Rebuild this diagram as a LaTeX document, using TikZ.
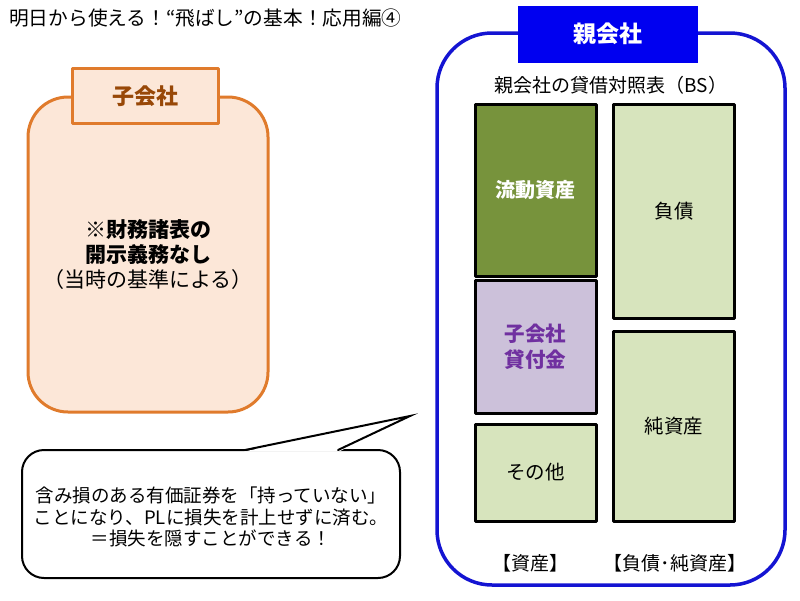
\documentclass[tikz,border=0pt]{standalone}
\usepackage{fontspec}
\setmainfont{Noto Sans CJK JP}
\usepackage{xcolor}
\usepackage{tikz}
\definecolor{orangeline}{HTML}{E07B2C}
\definecolor{peach}{HTML}{FCE7D8}
\definecolor{brownlabel}{HTML}{984807}
\definecolor{blueline}{HTML}{1414D2}
\definecolor{bluelabel}{HTML}{0000F0}
\definecolor{olive}{HTML}{77933C}
\definecolor{palegreen}{HTML}{D7E4BD}
\definecolor{lavender}{HTML}{CCC1DA}
\definecolor{purpletext}{HTML}{7030A0}
\usetikzlibrary{arrows.meta, calc}

\begin{document}
\begin{tikzpicture}[x=1pt, y=-1pt, line cap=round, line join=round,
	bsbox/.style={draw=black, line width=3pt, minimum width=121pt, inner sep=0pt, align=center,
		font=\fontsize{19.5}{24}\selectfont},
	tag/.style={inner sep=0pt, align=center}]
				\useasboundingbox (0,0) rectangle (800,600);
				\node[tag, anchor=west, font=\fontsize{19.7}{22}\selectfont] (title) at (9,18) {明日から使える！“飛ばし”の基本！応用編④};
				% 子会社
				\draw[orangeline, line width=3pt, fill=peach, rounded corners=40] (28,97) rectangle (268,412);
				\node[draw=orangeline, line width=3pt, fill=peach, minimum width=146pt, minimum height=55pt,
					text=brownlabel, font=\fontsize{22}{24}\selectfont\bfseries] (kolabel) at (145,96) {子会社};
				\node[tag, font=\fontsize{21}{25}\selectfont] (konote) at (148,255)
					{\textbf{※財務諸表の}\\\textbf{開示義務なし}\\（当時の基準による）};
				% 親会社
				\draw[blueline, line width=3.5pt, fill=white, rounded corners=55] (437,33) rectangle (785,585);
				\node[fill=bluelabel, minimum width=180pt, minimum height=57pt, text=white,
					font=\fontsize{23}{26}\selectfont\bfseries] (oyalabel) at (608,34) {親会社};
				\node[tag, font=\fontsize{19}{22}\selectfont] (bstitle) at (611,85) {親会社の貸借対照表（BS）};
				\node[bsbox, fill=olive, minimum height=172pt, text=white, font=\fontsize{20}{24}\selectfont\bfseries]
					(ryudo) at (535.5,190) {流動資産};
				\node[bsbox, fill=lavender, minimum height=133pt, text=purpletext, font=\fontsize{20.5}{26}\selectfont\bfseries]
					(kashitsuke) at (535.5,346.5) {子会社\\貸付金};
				\node[bsbox, fill=palegreen, minimum height=97pt] (sonota) at (535.5,472.5) {その他};
				\node[bsbox, fill=palegreen, minimum height=214pt] (fusai) at (674,211) {負債};
				\node[bsbox, fill=palegreen, minimum height=190pt] (junshisan) at (674,426) {純資産};
				\node[tag, font=\fontsize{19}{22}\selectfont] (shisan) at (530,563) {【資産】};
				\node[tag, font=\fontsize{19}{22}\selectfont] (fusaijun) at (675,563) {【負債･純資産】};
				% 吹き出し
				\draw[black, line width=2pt, fill=white, rounded corners=22] (22,450) rectangle (400,578);
				\fill[white] (244,451.5) -- (410,416) -- (339,451.5) -- cycle;
				\draw[black, line width=2pt, line join=miter] (245,450) -- (410,416) -- (338,450);
				\node[tag, font=\fontsize{18.5}{21.5}\selectfont] (fukidashi) at (211,517)
					{含み損のある有価証券を「持っていない」\\ことになり、PLに損失を計上せずに済む。\\＝損失を隠すことができる！};
\end{tikzpicture}
\end{document}
